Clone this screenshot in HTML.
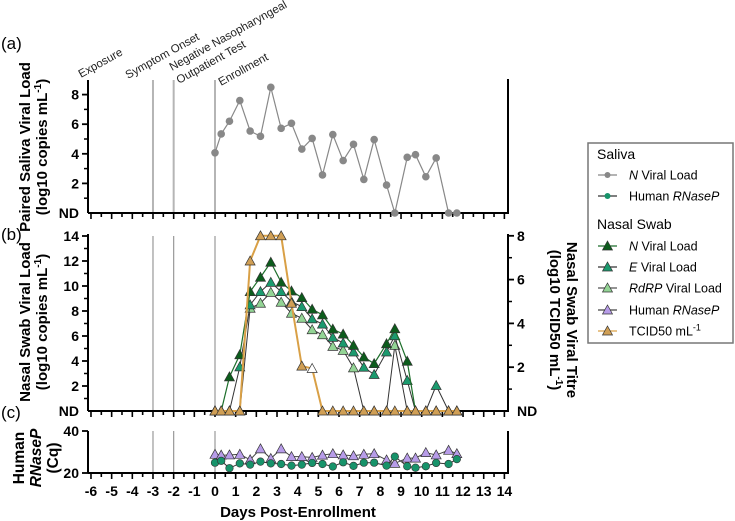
<!DOCTYPE html>
<html><head><meta charset="utf-8"><style>
body{margin:0;background:#fff;}
svg{display:block;font-family:"Liberation Sans",Arial,sans-serif;}
</style></head><body>
<svg id="chart" width="735" height="521" viewBox="0 0 735 521"></svg>
<script>
const days=[0,0.3,0.7,1.2,1.7,2.2,2.7,3.2,3.7,4.2,4.7,5.2,5.7,6.2,6.7,7.2,7.7,8.3,8.7,9.3,9.7,10.2,10.7,11.3,11.7];
const salivaN=[4.07,5.34,6.2,7.6,5.54,5.18,8.49,5.72,6.06,4.32,5.04,2.57,5.3,3.54,4.64,2.27,4.96,1.89,0,3.76,3.94,2.45,3.72,0,0];
const nasalN=[0,0,2.73,4.5,9.55,10.7,11.9,10.3,9.6,9.07,8.14,7.69,6.55,6.15,5.25,4.32,3.79,5.38,6.58,3.98,0,0,0,0,0];
const nasalE=[0,0,0,3.53,8.49,9.55,10.29,9.55,8.75,8.35,7.37,6.95,5.89,5.44,4.72,3.5,2.92,4.72,6.02,2.44,0,0,2.04,0,0];
const nasalRdRP=[0,0,0,0,8.22,8.62,9.49,8.7,7.82,7.42,6.5,6.1,5.17,4.85,3.45,0,0,0,5.25,0,0,0,0,0,0];
const tcid50=[0,0,0,0,6.85,8,8,8,4.92,2.05,1.94,0,0,0,0,0,0,0,0,0,0,0,0,0,0];
const tcidHollow=[0,0,0,0,0,0,0,0,0,0,1,0,0,0,0,0,0,0,0,0,0,0,0,0,0];
const nasalRNaseP=[28.9,28.5,28.6,28.9,26.3,31.5,26.9,31.5,27.8,27.8,27.4,28.5,29.2,28.6,28.2,28.9,29.2,26.2,24.6,27.1,27.1,29.7,28.6,30.8,29.2];
const salivaRNaseP=[24.9,25.8,22.3,24.6,24.0,25.4,24.6,24.3,23.5,24.0,24.8,24.3,23.1,25.1,23.4,24.9,24.9,23.5,27.8,23.2,22.5,23.2,24.8,24.3,26.6];
const xTicks=[-6,-5,-4,-3,-2,-1,0,1,2,3,4,5,6,7,8,9,10,11,12,13,14];
const aTicks=[2,4,6,8];
const bTicks=[2,4,6,8,10,12,14];
const rTicks=[2,4,6,8];
const cTicks=[20,40];
const events=["Exposure","Symptom Onset","Negative Nasopharyngeal","Outpatient Test","Enrollment"];
const eventDays=[-3,-2,0];

const NS="http://www.w3.org/2000/svg";
const svg=document.getElementById('chart');
function el(tag,attrs,parent){const e=document.createElementNS(NS,tag);for(const k in attrs)e.setAttribute(k,attrs[k]);(parent||svg).appendChild(e);return e;}
const X=d=>215+d*20.67;
const YA=v=>213-v*14.8;
const YB=v=>411-v*12.5;
const YR=v=>411-v*21.9;
const YC=v=>473-(v-20)*2.1;
const L=88,R=508;

eventDays.forEach(d=>{
  [[80,213],[236,411],[431,473]].forEach(([a,b],i)=>{
    const ln=el('line',{x1:X(d),x2:X(d),y1:a,y2:b,stroke:i==0?'#b5b5b5':'#999','stroke-width':i==0?2:1.2});
    
    
  });
});
const evPos=[[81,78],[128,79],[172,71],[179,84],[221,86]];
events.forEach((t,i)=>{
  const tx=el('text',{x:evPos[i][0],y:evPos[i][1],'font-size':11.5,fill:'#222',transform:`rotate(-29 ${evPos[i][0]} ${evPos[i][1]})`});
  tx.textContent=t;
  
  
});

function xAxis(y,name){
  const g=el('g',{});
  
  
  el('line',{x1:L,x2:R+1,y1:y,y2:y,stroke:'#000','stroke-width':2},g);
  for(let d=-6;d<=14;d+=0.5){
    const maj=Number.isInteger(d);
    el('line',{x1:X(d),x2:X(d),y1:y,y2:y+(maj?6:4),stroke:'#000','stroke-width':1.6},g);
  }
}
function yAxis(x,y1,y2,ticks,fy,side,minor,name){
  const g=el('g',{});
  
  
  el('line',{x1:x,x2:x,y1:y1,y2:y2,stroke:'#000','stroke-width':2},g);
  const dir=side=='l'?-1:1;
  minor.forEach(v=>el('line',{x1:x,x2:x+dir*4,y1:fy(v),y2:fy(v),stroke:'#000','stroke-width':1.5},g));
  ticks.forEach(v=>{
    el('line',{x1:x,x2:x+dir*6,y1:fy(v),y2:fy(v),stroke:'#000','stroke-width':1.8},g);
    const t=el('text',{x:x+dir*9,y:fy(v)+5,'font-size':14,'font-weight':'bold','text-anchor':side=='l'?'end':'start'},g);
    t.textContent=v;
  });
}
xAxis(213,'panel-a-x-axis');
yAxis(L,80,213,aTicks,YA,'l',[1,3,5,7],'panel-a-y-axis');
el('line',{x1:R,x2:R,y1:79,y2:214,stroke:'#000','stroke-width':2});
let t=el('text',{x:L-9,y:218,'font-size':14,'font-weight':'bold','text-anchor':'end'});t.textContent='ND';
xAxis(411,'panel-b-x-axis');
yAxis(L,234,411,bTicks,YB,'l',[1,3,5,7,9,11,13],'panel-b-left-axis');
yAxis(R,234,411,rTicks,YR,'r',[1,3,5,7],'panel-b-right-axis');
t=el('text',{x:L-9,y:416,'font-size':14,'font-weight':'bold','text-anchor':'end'});t.textContent='ND';
t=el('text',{x:R+9,y:416,'font-size':14,'font-weight':'bold'});t.textContent='ND';
xAxis(473,'panel-c-x-axis');
yAxis(L,431,473,cTicks,YC,'l',[],'panel-c-y-axis');
el('line',{x1:R,x2:R,y1:431,y2:473,stroke:'#000','stroke-width':2});
xTicks.forEach(d=>{
  const tx=el('text',{x:X(d),y:496,'font-size':14,'font-weight':'bold','text-anchor':'middle'});
  tx.textContent=d;
  
  
});
t=el('text',{x:298,y:517,'font-size':15,'font-weight':'bold','text-anchor':'middle'});t.textContent='Days Post-Enrollment';


[['(a)',49],['(b)',240],['(c)',418]].forEach(([s,y])=>{const p=el('text',{x:1,y:y,'font-size':17});p.textContent=s;});

function vtitle(lines,cx,cy,name,fs){
  const g=el('g',{transform:`translate(${cx},${cy}) rotate(-90)`});
  
  
  lines.forEach((ln,i)=>{const tx=el('text',{x:0,y:i*17,'font-size':fs,'font-weight':'bold','text-anchor':'middle'},g);tx.innerHTML=ln;});
}
vtitle(['Paired Saliva Viral Load','(log10 copies mL<tspan font-size="10" dy="-6">-1</tspan><tspan dy="6">)</tspan>'],30,147,'panel-a-y-title',15);
vtitle(['Nasal Swab Viral Load','(log10 copies mL<tspan font-size="10" dy="-6">-1</tspan><tspan dy="6">)</tspan>'],30,322,'panel-b-y-title',15);
vtitle(['Human','<tspan font-style="italic">RNaseP</tspan>','(Cq)'],24,458,'panel-c-y-title',15.5);
(function(){
  const g=el('g',{transform:`translate(555,320) rotate(90)`});
  
  
  let a=el('text',{x:0,y:-12,'font-size':15,'font-weight':'bold','text-anchor':'middle'},g);a.textContent='Nasal Swab Viral Titre';
  let b=el('text',{x:0,y:5,'font-size':15,'font-weight':'bold','text-anchor':'middle'},g);b.innerHTML='(log10 TCID50 mL<tspan font-size="10" dy="-6">-1</tspan><tspan dy="6">)</tspan>';
})();

function tri(cx,cy,fill,parent,stroke){return el('path',{d:`M${cx} ${cy-5}L${cx+5} ${cy+4}L${cx-5} ${cy+4}Z`,fill:fill,stroke:stroke||'#333','stroke-width':0.7},parent);}
function series(vals,fy,color,line,lw,marker,name,hollow){
  const g=el('g',{});
  
  
  el('polyline',{points:vals.map((v,i)=>X(days[i])+','+fy(v)).join(' '),fill:'none',stroke:line,'stroke-width':lw},g);
  vals.forEach((v,i)=>{
    let m;
    if(marker=='circle')m=el('circle',{cx:X(days[i]),cy:fy(v),r:3.8,fill:color,stroke:color=='#888'?'none':'#333','stroke-width':0.6},g);
    else m=tri(X(days[i]),fy(v),hollow&&hollow[i]?'#fff':color,g);
    
    
  });
}
series(salivaN,YA,'#888','#888',1.2,'circle','saliva-n-series');
series(nasalRdRP,YB,'#93d495','#333',1,'tri','nasal-rdrp-series');
series(nasalE,YB,'#1b9a6e','#333',1,'tri','nasal-e-series');
series(nasalN,YB,'#0c5c1c','#1c6e2a',1.2,'tri','nasal-n-series');
series(tcid50,YR,'#d09f55','#d9a046',2,'tri','tcid50-series',tcidHollow);
series(nasalRNaseP,YC,'#b79ce8','#444',1,'tri','nasal-rnasep-series');
series(salivaRNaseP,YC,'#17936a','#333',1,'circle','saliva-rnasep-series');

const lg=el('g',{});


el('rect',{x:588,y:143,width:145,height:200,fill:'#fff',stroke:'#777','stroke-width':1.5},lg);
let h=el('text',{x:597,y:159,'font-size':14},lg);h.textContent='Saliva';
h=el('text',{x:597,y:229,'font-size':14},lg);h.textContent='Nasal Swab';
const legItems=[[175,'circle','#888','#888','<tspan font-style="italic">N</tspan> Viral Load'],[196,'circle','#17936a','#333','Human <tspan font-style="italic">RNaseP</tspan>'],[246,'tri','#0c5c1c','#1c6e2a','<tspan font-style="italic">N</tspan> Viral Load'],[267,'tri','#1b9a6e','#333','<tspan font-style="italic">E</tspan> Viral Load'],[288,'tri','#93d495','#555','<tspan font-style="italic">RdRP</tspan> Viral Load'],[310,'tri','#b79ce8','#444','Human <tspan font-style="italic">RNaseP</tspan>'],[331,'tri','#d09f55','#d9a046','TCID50 mL<tspan font-size="9" dy="-5">-1</tspan>']];
legItems.forEach(([y,m,c,lc,txt])=>{
  const g=el('g',{},lg);
  
  
  el('line',{x1:598,x2:617,y1:y,y2:y,stroke:lc,'stroke-width':1.2},g);
  if(m=='circle')el('circle',{cx:607.5,cy:y,r:3,fill:c},g);else tri(607.5,y,c,g);
  const tx=el('text',{x:629,y:y+4.5,'font-size':12.5},g);tx.innerHTML=txt;
});
</script>
</body></html>
